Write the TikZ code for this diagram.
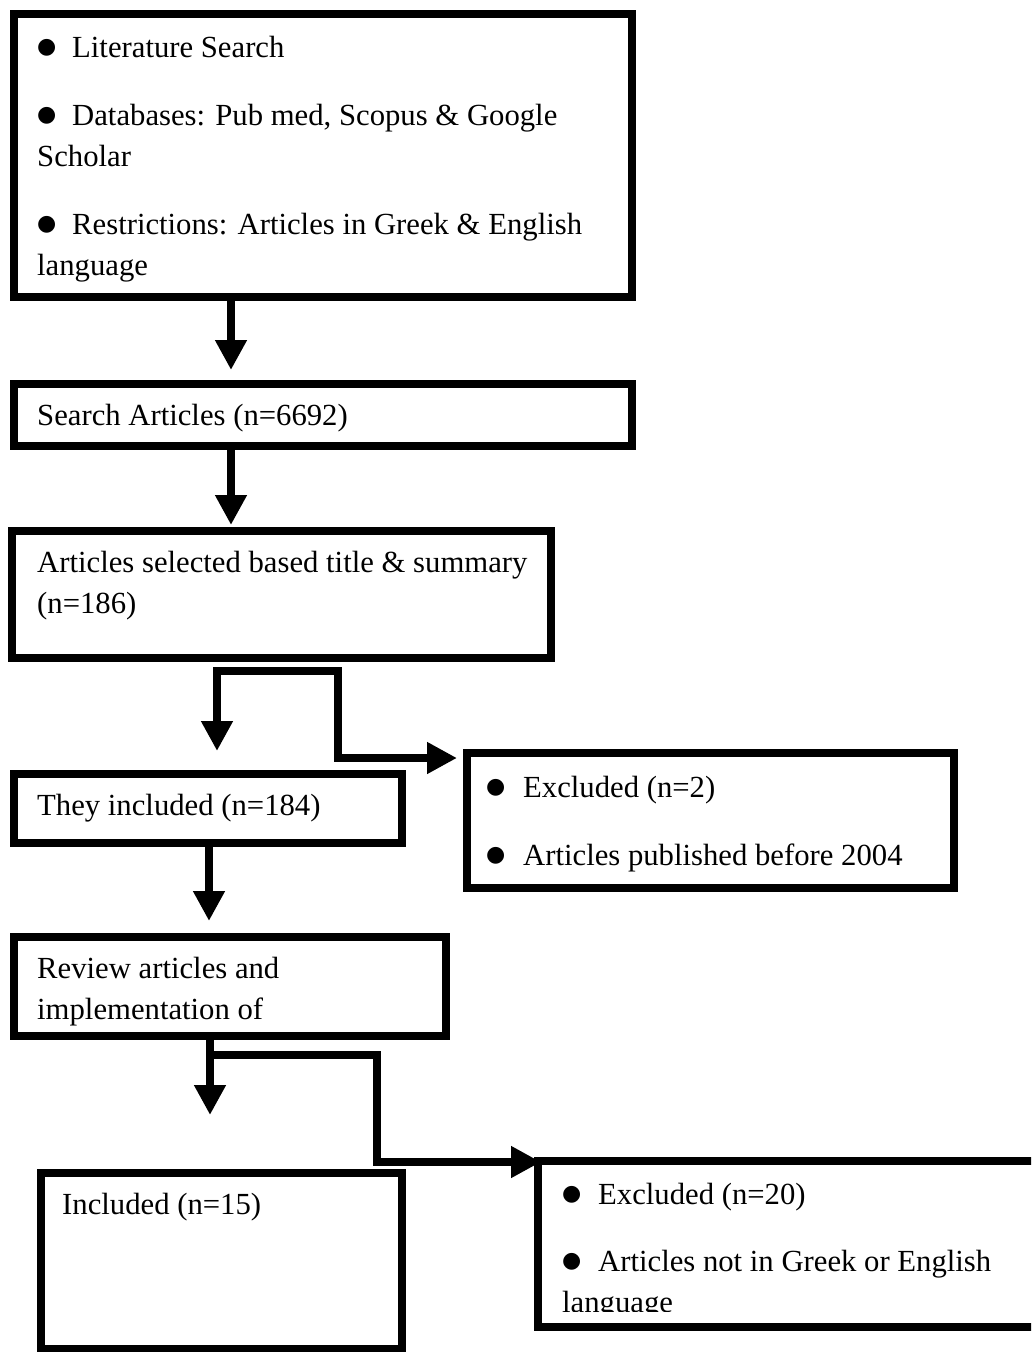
\documentclass[tikz,border=0pt]{standalone}
\usepackage{fontspec}
\setmainfont{Liberation Serif}
\newfontfamily\symfont{DejaVu Sans}
\usetikzlibrary{positioning,arrows.meta}

\tikzset{
  box/.style={draw, line width=8.5pt, outer sep=0pt, inner sep=0pt, anchor=north west},
  txt/.style={inner sep=0pt, align=left, font=\fontsize{30.7}{41}\selectfont},
  arr/.style={line width=8.5pt, -{Triangle[width=30pt,length=30pt]}},
  arrtwo/.style={line width=8.5pt, {Triangle[width=30pt,length=30pt]}-{Triangle[width=30pt,length=30pt]}},
}
% big bullet, #1 = distance to the text
\newcommand{\bul}[1]{\makebox[#1][l]{\raisebox{4pt}{\symfont\fontsize{22}{41}\selectfont ●}}}

\begin{document}
\begin{tikzpicture}[x=1pt,y=-1pt]
        \clip (0,0) rectangle (1031,1352);
        % boxes
        \node[box, minimum width=618pt, minimum height=283pt] (b1) at (14,14) {};
        \node[box, minimum width=618pt, minimum height=62pt] (b2) at (14,384) {};
        \node[box, minimum width=539pt, minimum height=127pt] (b3) at (12,531) {};
        \node[box, minimum width=388pt, minimum height=69pt] (b4) at (14,774) {};
        \node[box, minimum width=487pt, minimum height=135pt] (b5) at (467,753) {};
        \node[box, minimum width=432pt, minimum height=99pt] (b6) at (14,937) {};
        \node[box, minimum width=361pt, minimum height=176pt] (b7) at (41,1173) {};
        \node[box, minimum width=500pt, minimum height=166pt] (b8) at (538,1161) {};

        % texts
        \node[txt, below right=22pt and 23pt of b1.north west] (t1)
            {\bul{35pt}Literature Search\\[27pt]
             \bul{35pt}Databases: Pub med, Scopus \& Google\\
             Scholar\\[27pt]
             \bul{35pt}Restrictions: Articles in Greek \& English\\
             language};
        \node[txt, below right=20pt and 23pt of b2.north west] (t2) {Search Articles (n=6692)};
        \node[txt, below right=20pt and 25pt of b3.north west] (t3)
            {Articles selected based title \& summary\\ (n=186)};
        \node[txt, below right=20pt and 23pt of b4.north west] (t4) {They included (n=184)};
        \node[txt, below right=23pt and 19pt of b5.north west] (t5)
            {\bul{37pt}Excluded (n=2)\\[27pt]
             \bul{37pt}Articles published before 2004};
        \node[txt, below right=20pt and 23pt of b6.north west] (t6)
            {Review articles and\\ implementation of};
        \node[txt, below right=20pt and 21pt of b7.north west] (t7) {Included (n=15)};
        \begin{scope}
            \clip (b8.north west) rectangle (1031,1311);
            \node[txt, below right=22pt and 24pt of b8.north west] (t8)
                {\bul{36pt}Excluded (n=20)\\[26pt]
                 \bul{36pt}Articles not in Greek or English\\
                 language};
        \end{scope}

        % arrows
        \coordinate (j1) at (217,671);
        \coordinate (j2) at (338,671);
        \coordinate (j3) at (338,758);
        \coordinate (j4) at (210,1055);
        \coordinate (j5) at (377,1055);
        \coordinate (j6) at (377,1162);
        \draw[arr] ([xshift=217pt]b1.south west) -- ([xshift=217pt,yshift=14pt]b2.north west);
        \draw[arr] ([xshift=217pt]b2.south west) -- ([xshift=219pt,yshift=6pt]b3.north west);
        \draw[arrtwo] ([xshift=203pt,yshift=23pt]b4.north west) -- (j1) -- (j2) -- (j3)
            -- ([xshift=-10pt,yshift=-5pt]b5.north west);
        \draw[arr] ([xshift=195pt]b4.south west) -- ([xshift=195pt,yshift=16pt]b6.north west);
        \draw[arr] ([xshift=196pt]b6.south west) -- ([xshift=169pt,yshift=58pt]b7.north west);
        \draw[arr] (j4) -- (j5) -- (j6) -- ([xshift=3pt,yshift=-1pt]b8.north west);
\end{tikzpicture}
\end{document}
